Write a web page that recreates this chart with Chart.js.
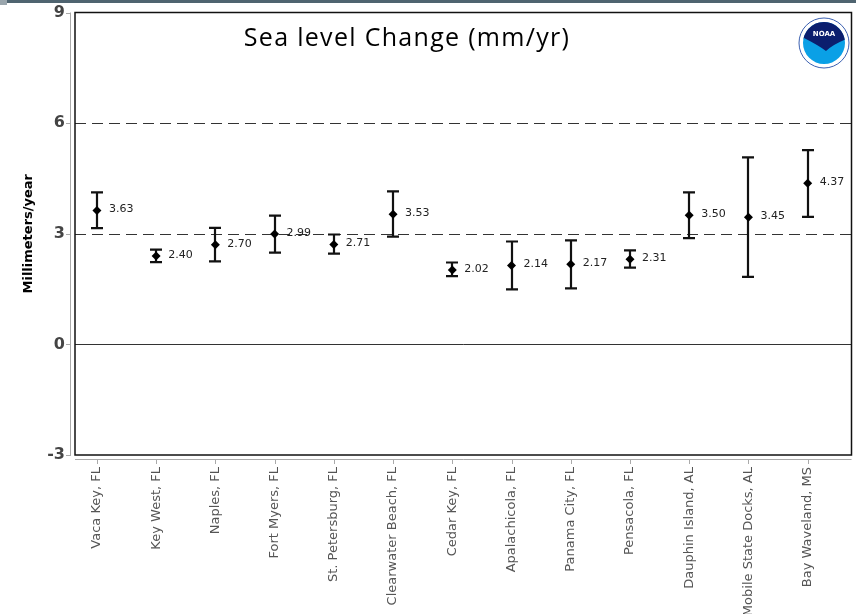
<!DOCTYPE html>
<html lang="en">
<head>
  <meta charset="UTF-8" />
  <title>Sea level Change (mm/yr)</title>
  <script src="https://cdn.jsdelivr.net/npm/chart.js"></script>
  <style>
    body { margin: 0; background: #fff; }
    .wrap { position: relative; width: 856px; height: 614px; }
    .topbar { position: absolute; left: 7px; right: 0; top: 0; height: 3px; background: #4f6470; }
    .topbar2 { position: absolute; left: 0; top: 0; width: 7px; height: 5px; background: #9aa6ad; }
  </style>
</head>
<body>
<div class="wrap">
  <canvas id="slr" width="856" height="614"></canvas>
  <div class="topbar"></div><div class="topbar2"></div>
</div>

<script>
// stations along the Gulf coast, left to right
const stations = ["Vaca Key, FL", "Key West, FL", "Naples, FL", "Fort Myers, FL", "St. Petersburg, FL",
  "Clearwater Beach, FL", "Cedar Key, FL", "Apalachicola, FL", "Panama City, FL", "Pensacola, FL",
  "Dauphin Island, AL", "Mobile State Docks, AL", "Bay Waveland, MS"];
const rates = [3.63, 2.40, 2.70, 2.99, 2.71, 3.53, 2.02, 2.14, 2.17, 2.31, 3.50, 3.45, 4.37];
const upper = [4.12, 2.57, 3.16, 3.49, 2.98, 4.15, 2.22, 2.79, 2.82, 2.55, 4.12, 5.07, 5.27];
const lower = [3.15, 2.23, 2.25, 2.49, 2.46, 2.92, 1.85, 1.49, 1.52, 2.08, 2.88, 1.83, 3.46];
const yTicks = [-3, 0, 3, 6, 9];
const dashedLines = [3, 6];
const chartTitle = "Sea level Change (mm/yr)";

// grid, error bars, value labels, frame, offset axes, logo
const decor = {
  id: 'decor',
  beforeDatasetsDraw(chart) {
    const { ctx, chartArea: a, scales: { x, y } } = chart;
    ctx.save();
    ctx.strokeStyle = '#333';
    ctx.lineWidth = 1;
    ctx.setLineDash([11, 6]);
    dashedLines.forEach(v => {
      const py = Math.round(y.getPixelForValue(v)) + 0.5;
      ctx.beginPath(); ctx.moveTo(a.left, py); ctx.lineTo(a.right, py); ctx.stroke();
    });
    ctx.setLineDash([]);
    const zy = Math.round(y.getPixelForValue(0)) + 0.5;
    ctx.beginPath(); ctx.moveTo(a.left, zy); ctx.lineTo(a.right, zy); ctx.stroke();

    // error bars
    ctx.strokeStyle = '#111';
    ctx.lineWidth = 2.2;
    stations.forEach((s, i) => {
      const px = Math.round(x.getPixelForValue(i));
      const hi = y.getPixelForValue(upper[i]);
      const lo = y.getPixelForValue(lower[i]);
      ctx.beginPath();
      ctx.moveTo(px, hi); ctx.lineTo(px, lo);
      ctx.moveTo(px - 6, hi); ctx.lineTo(px + 6, hi);
      ctx.moveTo(px - 6, lo); ctx.lineTo(px + 6, lo);
      ctx.stroke();
    });
    ctx.restore();
  },
  afterDatasetsDraw(chart) {
    const { ctx, chartArea: a, scales: { x, y } } = chart;
    ctx.save();
    ctx.fillStyle = '#222';
    ctx.font = '11px "DejaVu Sans"';
    ctx.textBaseline = 'middle';
    rates.forEach((r, i) => {
      ctx.fillText(r.toFixed(2), x.getPixelForValue(i) + 12, y.getPixelForValue(r) - 1);
    });

    // title inside the plot
    ctx.fillStyle = '#000';
    ctx.font = '25px "Open Sans"';
    if ('letterSpacing' in ctx) ctx.letterSpacing = '1.3px';
    ctx.textAlign = 'center';
    ctx.textBaseline = 'alphabetic';
    ctx.fillText(chartTitle, 407, 46);
    if ('letterSpacing' in ctx) ctx.letterSpacing = '0px';

    // frame
    ctx.strokeStyle = '#111';
    ctx.lineWidth = 1.5;
    ctx.strokeRect(a.left, a.top, a.right - a.left, a.bottom - a.top);

    // offset axis lines in grey
    ctx.strokeStyle = '#aaa';
    ctx.lineWidth = 1;
    ctx.beginPath();
    ctx.moveTo(70.5, a.top); ctx.lineTo(70.5, a.bottom + 1);
    yTicks.forEach(v => {
      const py = Math.round(y.getPixelForValue(v)) + 0.5;
      ctx.moveTo(66, py); ctx.lineTo(70.5, py);
    });
    ctx.moveTo(a.left, 459.5); ctx.lineTo(a.right, 459.5);
    stations.forEach((s, i) => {
      const px = Math.round(x.getPixelForValue(i)) + 0.5;
      ctx.moveTo(px, 459.5); ctx.lineTo(px, 464);
    });
    ctx.stroke();

    // NOAA badge
    const cx = 824, cy = 43;
    ctx.beginPath(); ctx.arc(cx, cy, 25, 0, Math.PI * 2);
    ctx.fillStyle = '#fff'; ctx.fill();
    ctx.strokeStyle = '#3a5fb0'; ctx.lineWidth = 1; ctx.stroke();
    ctx.beginPath(); ctx.arc(cx, cy, 21, 0, Math.PI * 2);
    ctx.fillStyle = '#0aa0e6'; ctx.fill();
    ctx.beginPath();
    ctx.arc(cx, cy, 21, Math.PI * 1.05, Math.PI * 1.95);
    ctx.quadraticCurveTo(cx + 8, cy + 2, cx + 2, cy + 8);
    ctx.quadraticCurveTo(cx - 6, cy + 2, cx - 20, cy - 5);
    ctx.closePath();
    ctx.fillStyle = '#0b1e6e'; ctx.fill();
    ctx.fillStyle = '#fff';
    ctx.font = 'bold 7px "DejaVu Sans"';
    ctx.textAlign = 'center';
    ctx.fillText('NOAA', cx, cy - 7);
    ctx.restore();
  }
};

new Chart(document.getElementById('slr'), {
  type: 'scatter',
  data: {
    datasets: [{
      data: rates.map((r, i) => ({ x: i, y: r })),
      pointStyle: 'rectRot',
      pointRadius: 4.5,
      backgroundColor: '#000',
      borderColor: '#000',
      borderWidth: 0,
      showLine: false
    }]
  },
  options: {
    responsive: false,
    animation: false,
    layout: { padding: { top: 12.5, right: 1.5, left: 0, bottom: 0 } },
    plugins: { legend: { display: false }, tooltip: { enabled: false } },
    scales: {
      x: {
        type: 'linear',
        min: -0.37,
        max: 12.74,
        grid: { display: false, drawTicks: false },
        border: { display: false },
        afterBuildTicks: s => { s.ticks = stations.map((n, i) => ({ value: i })); },
        afterFit: s => { s.height = 159; s.paddingLeft = 0; s.paddingRight = 0; },
        ticks: {
          autoSkip: false,
          minRotation: 90,
          maxRotation: 90,
          padding: 12,
          color: '#555',
          font: { family: 'DejaVu Sans', size: 13 },
          callback: v => stations[v]
        }
      },
      y: {
        min: -3,
        max: 9,
        grid: { display: false, drawTicks: false },
        border: { display: false },
        afterBuildTicks: s => { s.ticks = yTicks.map(v => ({ value: v })); },
        afterFit: s => { s.width = 75; s.paddingTop = 0; s.paddingBottom = 0; },
        ticks: {
          padding: 10,
          color: '#444',
          font: { family: 'DejaVu Sans', size: 16, weight: 'bold' }
        },
        title: {
          display: true,
          text: 'Millimeters/year',
          color: '#000',
          padding: { top: 21, bottom: 0 },
          font: { family: 'DejaVu Sans', size: 13, weight: 'bold' }
        }
      }
    }
  },
  plugins: [decor]
});
</script>
</body>
</html>
